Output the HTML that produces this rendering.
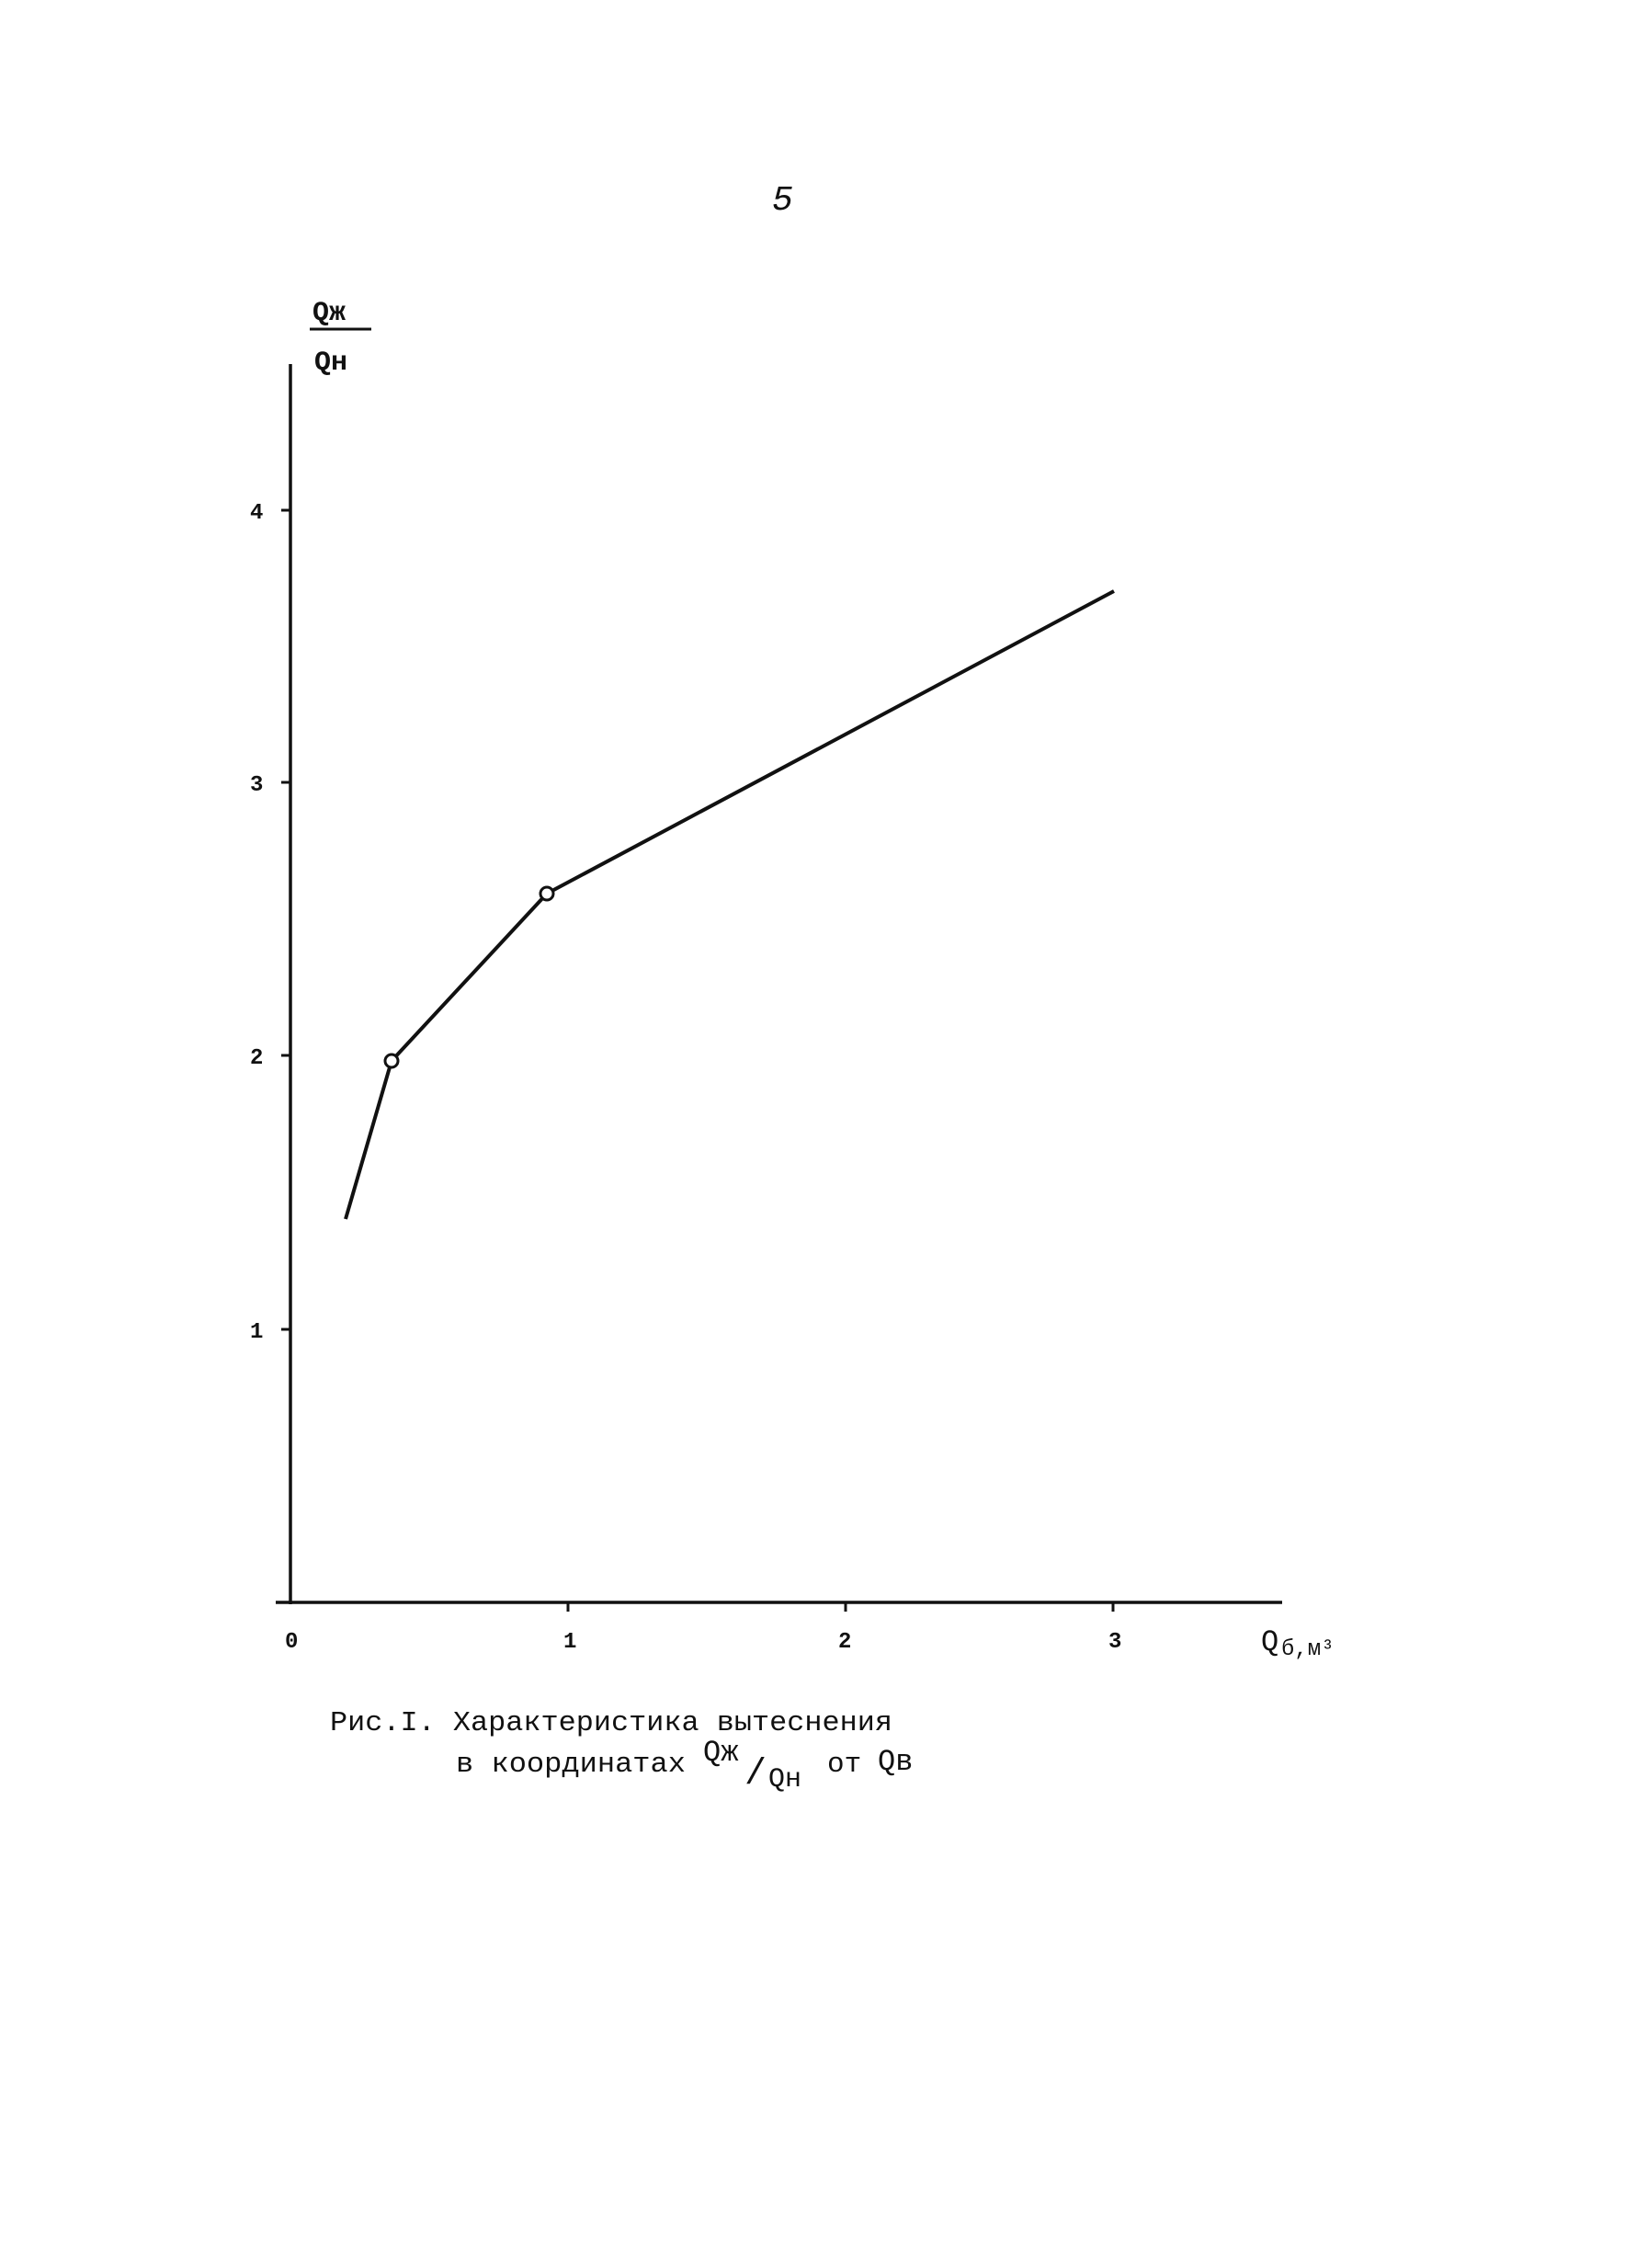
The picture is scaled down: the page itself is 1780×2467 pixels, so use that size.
<!DOCTYPE html>
<html><head><meta charset="utf-8"><style>
html,body{margin:0;padding:0;background:#fff}
svg{display:block}
text{font-family:"Liberation Mono","DejaVu Sans Mono",monospace;fill:#111}
</style></head><body>
<svg width="1780" height="2467" viewBox="0 0 1780 2467" xmlns="http://www.w3.org/2000/svg">
<text x="840" y="228" font-size="38" font-style="italic" font-family="Liberation Serif">5</text>
<text x="340" y="348" font-size="30" font-weight="bold">Qж</text>
<line x1="337" y1="358" x2="404" y2="358" stroke="#111" stroke-width="3"/>
<text x="342" y="402" font-size="30" font-weight="bold">Qн</text>
<line x1="316" y1="396" x2="316" y2="1745" stroke="#111" stroke-width="3.5"/>
<line x1="300" y1="1743" x2="1395" y2="1743" stroke="#111" stroke-width="3.5"/>
<g stroke="#111" stroke-width="3">
<line x1="306" y1="555" x2="316" y2="555"/>
<line x1="306" y1="851" x2="316" y2="851"/>
<line x1="306" y1="1148" x2="316" y2="1148"/>
<line x1="306" y1="1446" x2="316" y2="1446"/>
<line x1="618" y1="1743" x2="618" y2="1753"/>
<line x1="920" y1="1743" x2="920" y2="1753"/>
<line x1="1211" y1="1743" x2="1211" y2="1753"/>
</g>
<g font-size="24" font-weight="bold">
<text x="272" y="564">4</text>
<text x="272" y="860">3</text>
<text x="272" y="1157">2</text>
<text x="272" y="1455">1</text>
<text x="310" y="1792">0</text>
<text x="613" y="1792">1</text>
<text x="912" y="1792">2</text>
<text x="1206" y="1792">3</text>
</g>
<text x="1372" y="1795" font-size="32">Q</text>
<text x="1394" y="1800" font-size="24">б,м³</text>
<polyline points="376,1326 426,1154 595,972 1212,643" fill="none" stroke="#111" stroke-width="4"/>
<circle cx="426" cy="1154" r="7" fill="#fff" stroke="#111" stroke-width="3"/>
<circle cx="595" cy="972" r="7" fill="#fff" stroke="#111" stroke-width="3"/>
<text x="359" y="1882" font-size="31" textLength="612" lengthAdjust="spacingAndGlyphs">Рис.I. Характеристика вытеснения</text>
<text x="496" y="1927" font-size="31" textLength="250" lengthAdjust="spacingAndGlyphs">в координатах</text>
<text x="765" y="1915" font-size="32">Qж</text>
<text x="810" y="1940" font-size="40">/</text>
<text x="836" y="1943" font-size="30">Qн</text>
<text x="900" y="1927" font-size="31">от</text>
<text x="955" y="1925" font-size="32">Qв</text>
</svg>
</body></html>
